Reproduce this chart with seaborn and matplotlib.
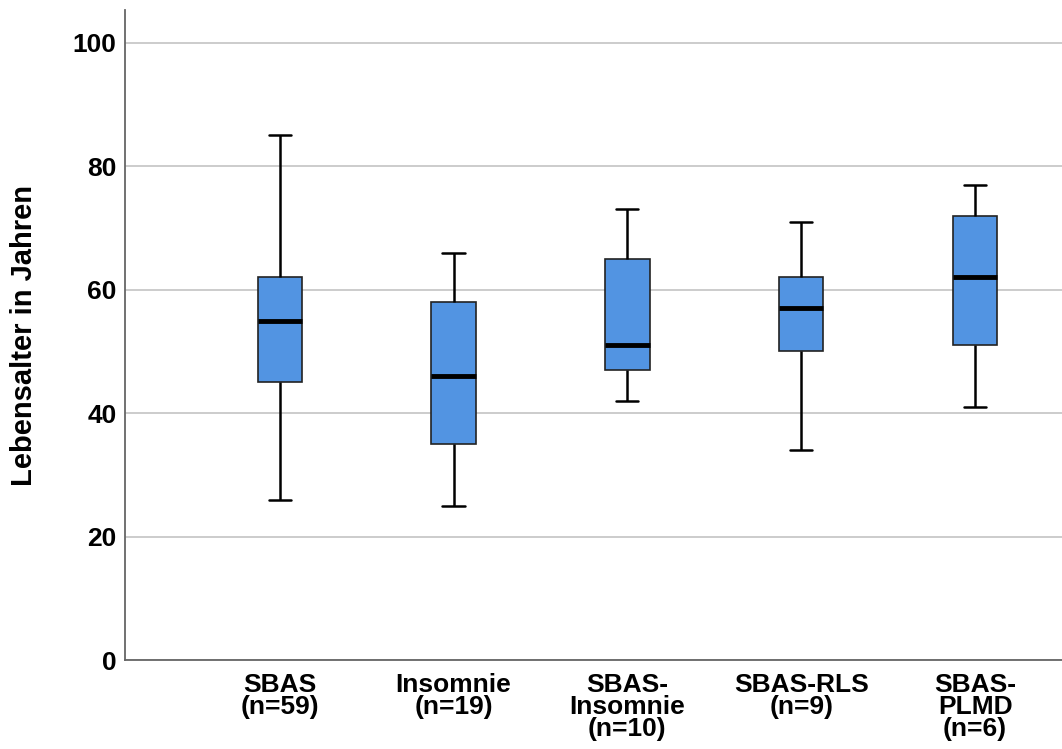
import numpy as np
import pandas as pd
import matplotlib
matplotlib.use("Agg")
import matplotlib.pyplot as plt
import seaborn as sns

categories = ["SBAS\n(n=59)", "Insomnie\n(n=19)", "SBAS-\nInsomnie\n(n=10)", "SBAS-RLS\n(n=9)", "SBAS-\nPLMD\n(n=6)"]
whisker_low = [26, 25, 42, 34, 41]
q1 = [45, 35, 47, 50, 51]
median = [55, 46, 51, 57, 62]
q3 = [62, 58, 65, 62, 72]
whisker_high = [85, 66, 73, 71, 77]

rows = []
for c, lo, a, m, b, hi in zip(categories, whisker_low, q1, median, q3, whisker_high):
    for v in (lo, a, m, b, hi):
        rows.append({"Gruppe": c, "Alter": v})
df = pd.DataFrame(rows)

sns.set_style("white")
plt.rcParams['font.family'] = ['Liberation Sans', 'DejaVu Sans']
plt.rcParams['text.color'] = 'black'
plt.rcParams['xtick.color'] = 'black'
plt.rcParams['ytick.color'] = 'black'
plt.rcParams['axes.labelcolor'] = 'black'

fig = plt.figure(figsize=(10.62, 7.49), dpi=100)
ax = fig.add_axes([0.1177, 0.1188, 0.8823, 0.8678])

sns.boxplot(data=df, x="Gruppe", y="Alter", order=categories, whis=(0, 100),
            width=0.255, color="#5294E2", saturation=1, linewidth=1.5,
            linecolor="#111111",
            medianprops=dict(color="black", linewidth=3.5),
            capprops=dict(color="black", linewidth=1.8),
            whiskerprops=dict(color="black", linewidth=1.8),
            boxprops=dict(edgecolor="#222222", linewidth=1.2),
            ax=ax)

ax.set_xlim(-0.89, 4.5)
ax.set_ylim(0, 105.3)
ax.set_yticks([0, 20, 40, 60, 80, 100])
ax.yaxis.grid(True, color="#c8c8c8", linewidth=1.3)
ax.xaxis.grid(False)
ax.set_axisbelow(True)
for s in ["top", "right"]:
    ax.spines[s].set_visible(False)
for s in ["left", "bottom"]:
    ax.spines[s].set_color("#666666")
    ax.spines[s].set_linewidth(1.3)
ax.tick_params(axis="both", length=0)
ax.tick_params(axis="y", pad=6, labelsize=19)
ax.tick_params(axis="x", pad=9, labelsize=19)
for lab in ax.get_yticklabels():
    lab.set_fontweight("bold")
for lab in ax.get_xticklabels():
    lab.set_fontweight("bold")
    lab.set_linespacing(0.9)
ax.set_xlabel("")
ax.set_ylabel("Lebensalter in Jahren", fontsize=21, fontweight="bold")
ax.yaxis.set_label_coords(-0.0929, 0.5)

fig.savefig("out.png", dpi=100)
